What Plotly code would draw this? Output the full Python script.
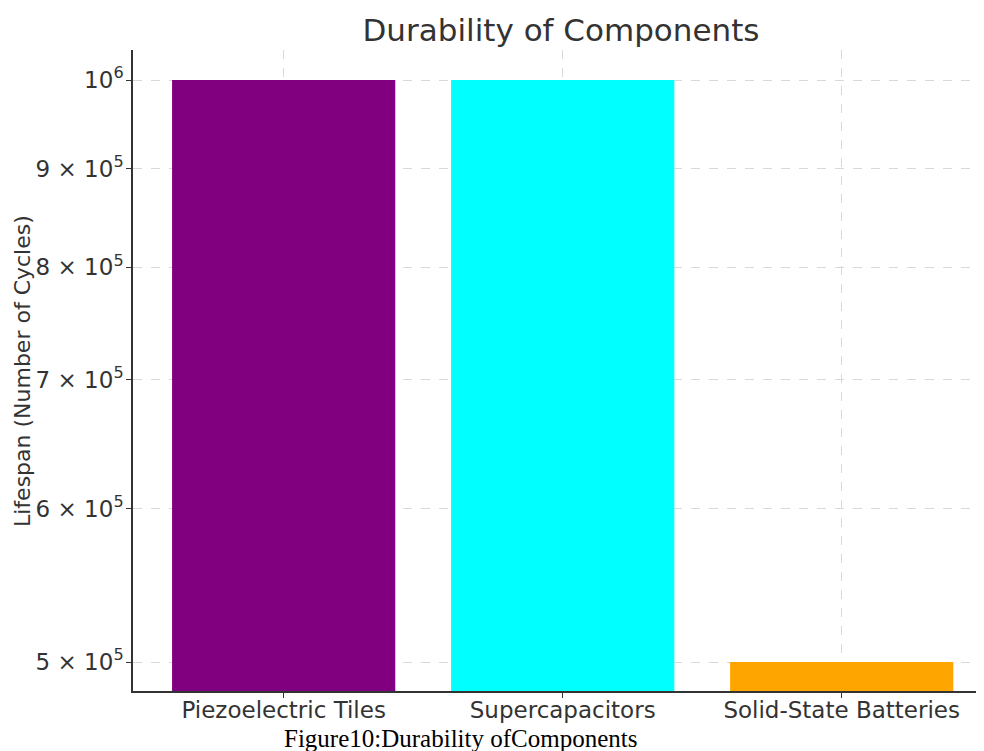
import plotly.graph_objects as go

categories = ["Piezoelectric Tiles", "Supercapacitors", "Solid-State Batteries"]
lifespan = [1000000, 1000000, 500000]
colors = ["#800080", "#00FFFF", "#FFA500"]
ytick_vals = [500000, 600000, 700000, 800000, 900000, 1000000]
ytick_text = ["5 × 10<sup>5</sup>", "6 × 10<sup>5</sup>", "7 × 10<sup>5</sup>",
              "8 × 10<sup>5</sup>", "9 × 10<sup>5</sup>", "10<sup>6</sup>"]

W, H = 976, 743
L, R, T, B = 125, 0, 42, 60
PW, PH = W - L - R, H - T - B

fig = go.Figure()
fig.add_trace(go.Bar(x=list(range(len(categories))), y=lifespan,
                     marker=dict(color=colors, line=dict(width=0)),
                     width=0.8, showlegend=False))

fig.update_layout(
    width=W, height=H,
    paper_bgcolor="white", plot_bgcolor="white",
    margin=dict(l=L, r=R, t=T, b=B),
    font=dict(family="DejaVu Sans", color="#333333", size=23),
    title=dict(text="Durability of Components", x=553 / W, xanchor="center",
               y=1 - 22 / H, yanchor="middle",
               font=dict(size=31, color="#333333")),
)
fig.update_xaxes(
    range=[-0.54, 2.51], tickvals=list(range(len(categories))), ticktext=categories,
    showline=True, linecolor="#333333", linewidth=1.5,
    ticks="outside", ticklen=5, tickcolor="#333333",
    showgrid=True, gridcolor="#d9d9d9", griddash="dash", gridwidth=1,
    zeroline=False, tickfont=dict(size=23), ticklabelstandoff=-7,
)
fig.update_yaxes(
    type="log", range=[5.68397, 6.01552],
    tickvals=ytick_vals, ticktext=ytick_text,
    showline=True, linecolor="#333333", linewidth=1.5,
    ticks="outside", ticklen=5, tickcolor="#333333",
    showgrid=True, gridcolor="#d9d9d9", griddash="dash", gridwidth=1,
    zeroline=False, tickfont=dict(size=23), ticklabelstandoff=-2,
)
fig.add_annotation(text="Lifespan (Number of Cycles)", xref="paper", yref="paper",
                   x=(14 - L) / PW, y=(H - B - 363) / PH, xanchor="center", yanchor="middle",
                   textangle=-90, showarrow=False, font=dict(size=22, color="#333333"))
fig.add_annotation(text="Figure10:Durability ofComponents", xref="paper", yref="paper",
                   x=(452 - L) / PW, y=-(730 - (H - B)) / PH, xanchor="center", yanchor="middle",
                   showarrow=False, font=dict(family="Liberation Serif", size=25, color="black"))
fig.write_html("out.html")
